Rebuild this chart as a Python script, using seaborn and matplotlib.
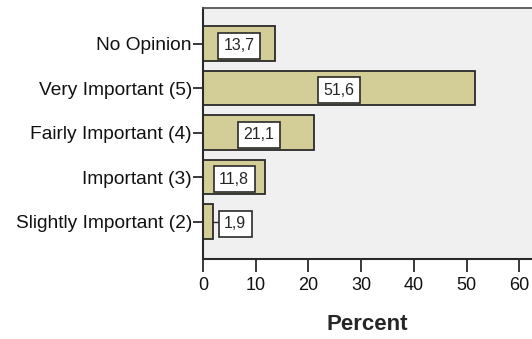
import matplotlib
matplotlib.use("Agg")
import matplotlib.pyplot as plt
import seaborn as sns
import pandas as pd

categories = ["No Opinion", "Very Important (5)", "Fairly Important (4)",
              "Important (3)", "Slightly Important (2)"]
percents = [13.7, 51.6, 21.1, 11.8, 1.9]
value_labels = ["13,7", "51,6", "21,1", "11,8", "1,9"]
x_ticks = [0, 10, 20, 30, 40, 50, 60]

sns.set_style("white")
plt.rcParams["font.family"] = ["Liberation Sans", "DejaVu Sans"]

df = pd.DataFrame({"category": categories, "percent": percents})

fig = plt.figure(figsize=(5.32, 3.39), dpi=100)
ax = fig.add_axes([203 / 532, 80 / 339, 329 / 532, 251 / 339])
ax.set_facecolor("#F0F0F0")

sns.barplot(data=df, x="percent", y="category", orient="h", color="#D3CE97",
            saturation=1, edgecolor="#2A2A2A", linewidth=1.3, width=0.77, ax=ax)

# value boxes centred on the bars, pushed right when the bar is too short
for i, (v, lab) in enumerate(zip(percents, value_labels)):
    xpos = v / 2
    if v < 6:
        xpos = v + 4.2
        ax.plot([v, xpos - 2.5], [i, i], color="#2A2A2A", lw=1)
    ax.text(xpos, i + 0.05, lab, ha="center", va="center", fontsize=11.5,
            bbox=dict(boxstyle="square,pad=0.35", fc="white", ec="#2A2A2A", lw=1.2))

ax.set_xlim(0, 62.4)
ax.set_ylim(4.84, -0.8)
ax.set_xticks(x_ticks)
ax.set_xticklabels([str(t) for t in x_ticks])
ax.tick_params(axis="both", which="both", width=1.3,
               color="#2A2A2A", labelcolor="#111111")
ax.tick_params(axis="y", left=True, length=7, pad=1, labelsize=13.8)
ax.tick_params(axis="x", bottom=True, length=9, pad=4, labelsize=13)
ax.set_xlabel("Percent", fontsize=16, fontweight="bold", labelpad=14)
ax.set_ylabel("")

for side in ["left", "bottom"]:
    ax.spines[side].set_color("#2A2A2A")
    ax.spines[side].set_linewidth(1.5)
ax.spines["top"].set_color("#555555")
ax.spines["top"].set_linewidth(1.3)
ax.spines["right"].set_visible(False)

fig.savefig("out.png", dpi=100)
